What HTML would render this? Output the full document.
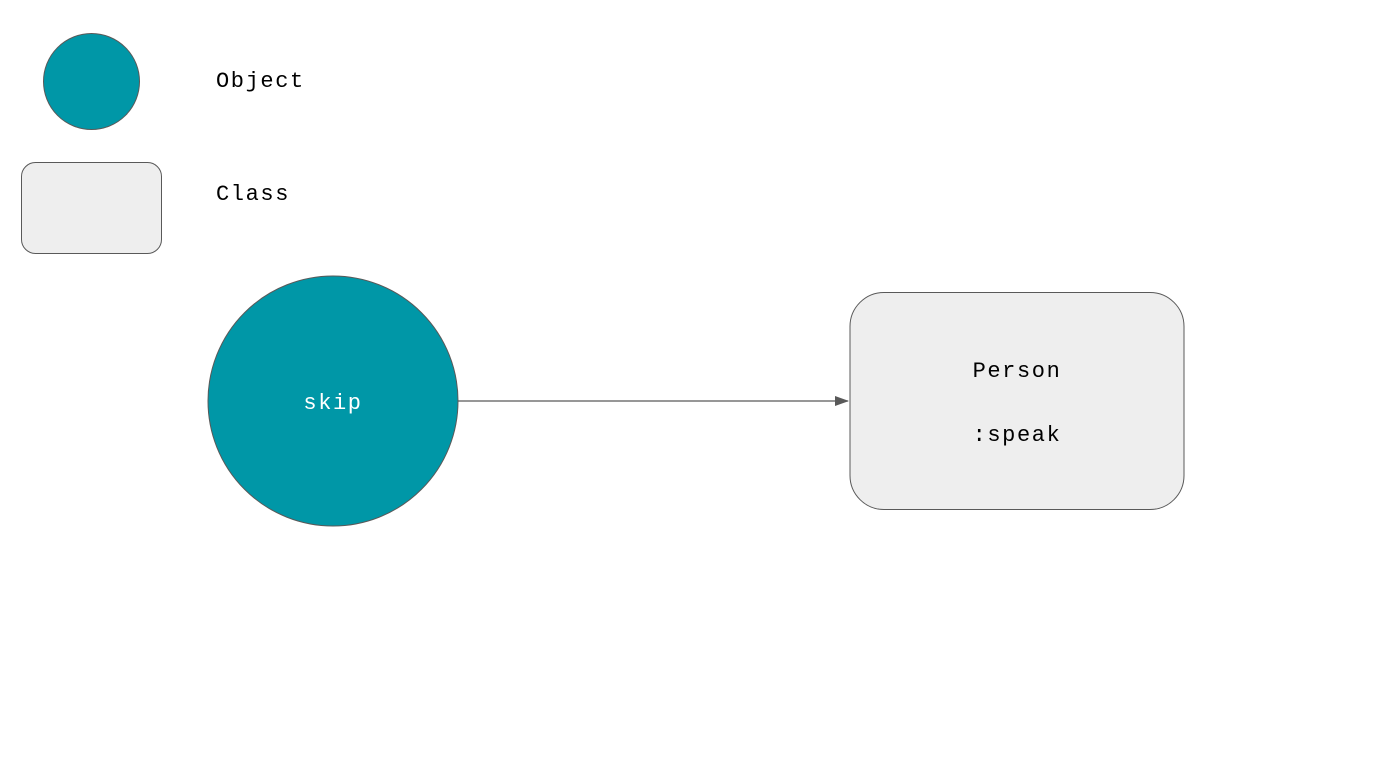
<!DOCTYPE html>
<html><head><meta charset="utf-8"><style>
html,body{margin:0;padding:0;background:#fff;}
svg{display:block;}
text{font-family:"Liberation Mono",monospace;font-size:22px;letter-spacing:1.6px;}
</style></head><body>
<svg width="1388" height="767" viewBox="0 0 1388 767">
<defs><marker id="a" markerWidth="14" markerHeight="10" refX="13" refY="5" orient="auto" markerUnits="userSpaceOnUse"><path d="M0,0 L14,5 L0,10 z" fill="#595959"/></marker></defs>
<circle cx="91.5" cy="81.5" r="48" fill="#0097a7" stroke="#595959" stroke-width="1"/>
<text x="216" y="87" fill="#000">Object</text>
<rect x="21.5" y="162.5" width="140" height="91" rx="14" fill="#eeeeee" stroke="#595959"/>
<text x="216" y="200" fill="#000">Class</text>
<circle cx="333" cy="401" r="125" fill="#0097a7" stroke="#595959"/>
<text x="333" y="409" fill="#fff" text-anchor="middle">skip</text>
<line x1="458" y1="401" x2="848" y2="401" stroke="#595959" stroke-width="1.3" marker-end="url(#a)"/>
<rect x="850" y="292.5" width="334" height="217" rx="34" fill="#eeeeee" stroke="#595959"/>
<text x="1017" y="377" fill="#000" text-anchor="middle">Person</text>
<text x="1017" y="441" fill="#000" text-anchor="middle">:speak</text>
</svg>
</body></html>
